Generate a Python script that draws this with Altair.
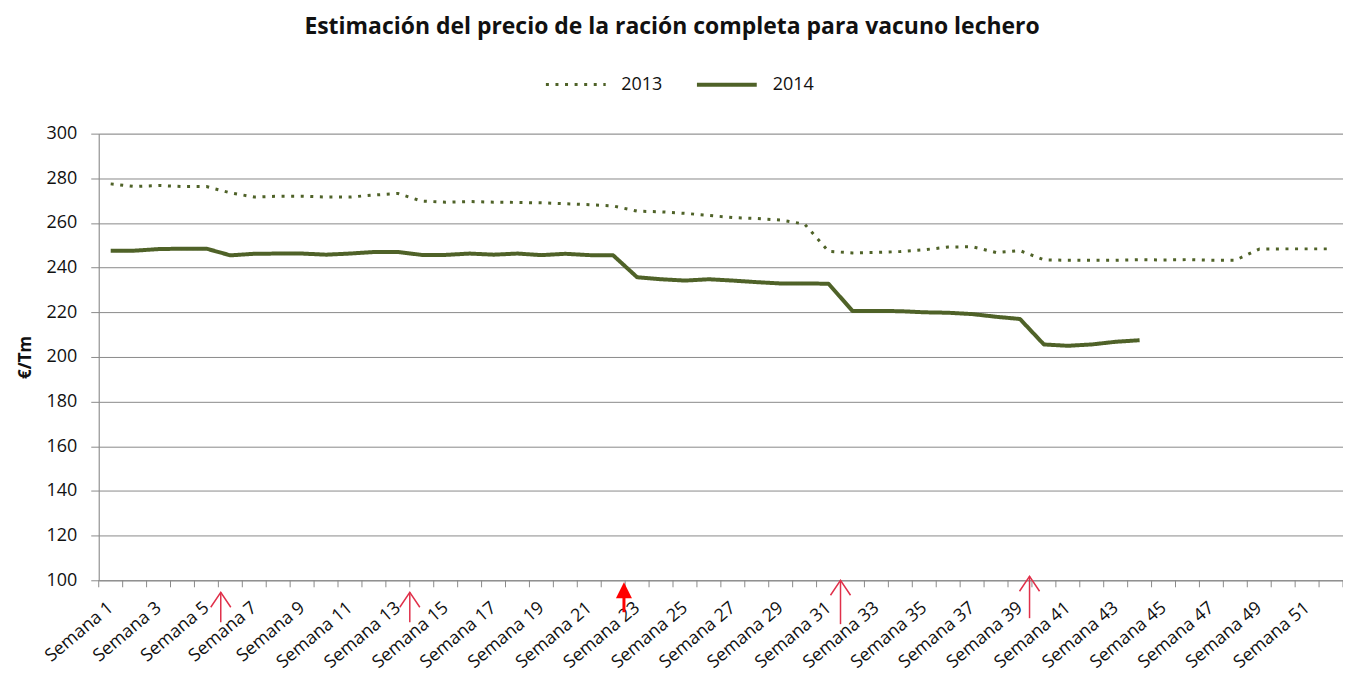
import altair as alt
import pandas as pd

# ---------------- data ----------------
weeks = list(range(1, 53))
v2013 = [277.5, 276.3, 276.8, 276.3, 276.3, 273.5, 271.6, 272.0, 272.0, 271.6,
         271.6, 272.5, 273.2, 269.8, 269.3, 269.6, 269.3, 269.2, 269.0, 268.6,
         268.2, 267.6, 265.3, 265.0, 264.3, 263.4, 262.4, 262.0, 261.3, 259.5,
         247.3, 246.6, 246.8, 247.2, 248.0, 249.2, 249.4, 246.8, 247.6, 243.5,
         243.3, 243.3, 243.3, 243.6, 243.4, 243.6, 243.3, 243.3, 248.3, 248.4,
         248.4, 248.4]
v2014 = [247.6, 247.6, 248.3, 248.5, 248.5, 245.5, 246.2, 246.3, 246.3, 245.8,
         246.3, 247.0, 247.0, 245.7, 245.7, 246.3, 245.8, 246.3, 245.6, 246.2,
         245.6, 245.5, 235.7, 234.8, 234.2, 234.8, 234.2, 233.5, 232.9, 232.9,
         232.8, 220.6, 220.6, 220.5, 220.0, 219.8, 219.2, 218.0, 217.0, 205.6,
         205.0, 205.6, 206.8, 207.5]
series = ["2013", "2014"]
label_weeks = list(range(1, 53, 2))
y_ticks = list(range(100, 301, 20))
tick_bounds = [w - 0.5 for w in range(1, 54)]
open_arrow_weeks = [5.6, 13.5, 31.5, 39.4]
filled_arrow_weeks = [22.45]

rows = []
for w, v in zip(weeks, v2013):
    rows.append({"semana": w, "precio": v, "anio": "2013"})
for w, v in zip(weeks, v2014):
    rows.append({"semana": w, "precio": v, "anio": "2014"})
df = pd.DataFrame(rows)

# ---------------- layout / style ----------------
W, H = 1248, 448
FONT = "Open Sans"
LINE = "#4F6228"
GRID = "#8a8a8a"
ARROW = "#e0304a"
# pixel offsets below the x axis for each open arrow: (tip, tail)
OPEN_ARROW_GEOM = [(12, 42), (12, 42), (0, 44), (-4, 38)]

xscale = alt.Scale(domain=[0.5, 52.5], nice=False, zero=False)
yscale = alt.Scale(domain=[100, 300], nice=False, zero=False)

lines = alt.Chart(df).mark_line(color=LINE, strokeCap="butt", strokeJoin="round").encode(
    x=alt.X("semana:Q", scale=xscale,
            axis=alt.Axis(values=label_weeks, labelExpr="'Semana ' + datum.value",
                          labelAngle=-40, labelAlign="right", labelBaseline="middle",
                          labelPadding=25, ticks=False, grid=False, title=None,
                          domainColor=GRID, labelFontSize=18, labelColor="#111",
                          labelFont=FONT, labelOverlap=False, labelBound=False)),
    y=alt.Y("precio:Q", scale=yscale,
            axis=alt.Axis(values=y_ticks, title="€/Tm", grid=True, gridColor=GRID,
                          domainColor=GRID, tickColor=GRID, tickSize=8,
                          labelPadding=14, labelFontSize=18, labelColor="#111",
                          labelFont=FONT, titleFont=FONT, titleFontSize=17,
                          titleFontWeight="bold", titleColor="#111", titlePadding=12)),
    strokeDash=alt.StrokeDash("anio:N",
                              scale=alt.Scale(domain=series, range=[[3, 6.6], [1, 0]]),
                              legend=alt.Legend(title=None, orient="none", legendX=447,
                                                legendY=-81, direction="horizontal",
                                                symbolType="stroke", symbolSize=3600,
                                                symbolStrokeWidth=3.5, symbolStrokeColor=LINE,
                                                labelFontSize=18, labelFont=FONT,
                                                labelColor="#111", labelOffset=14,
                                                columnPadding=26)),
    strokeWidth=alt.StrokeWidth("anio:N", scale=alt.Scale(domain=series, range=[3, 4]),
                                legend=None),
)

ticks_df = pd.DataFrame({"b": tick_bounds})
xticks = alt.Chart(ticks_df).mark_rule(color=GRID, strokeWidth=1).encode(
    x=alt.X("b:Q", scale=xscale), y=alt.value(H), y2=alt.value(H + 7))

arrow_layers = []
for wk, (tip, tail) in zip(open_arrow_weeks, OPEN_ARROW_GEOM):
    adf = pd.DataFrame({"w": [wk]})
    arrow_layers.append(alt.Chart(adf).mark_rule(color=ARROW, strokeWidth=1.5).encode(
        x=alt.X("w:Q", scale=xscale), y=alt.value(H + tip), y2=alt.value(H + tail)))
    arrow_layers.append(alt.Chart(adf).mark_point(
        shape="M-0.67,1L0,0L0.67,1", size=900, filled=False, color=ARROW, strokeWidth=1.5,
        opacity=1).encode(x=alt.X("w:Q", scale=xscale), y=alt.value(H + tip)))

filled_df = pd.DataFrame({"w": filled_arrow_weeks})
fstem = alt.Chart(filled_df).mark_rule(color="#ff0000", strokeWidth=3).encode(
    x=alt.X("w:Q", scale=xscale), y=alt.value(H + 14), y2=alt.value(H + 32))
fhead = alt.Chart(filled_df).mark_point(
    shape="M-0.5,1L0,0L0.5,1Z", size=1024, filled=True, color="#ff0000",
    opacity=1).encode(x=alt.X("w:Q", scale=xscale), y=alt.value(H + 2))

chart = alt.layer(lines, xticks, *arrow_layers, fstem, fhead).properties(
    width=W, height=H,
    title=alt.TitleParams("Estimación del precio de la ración completa para vacuno lechero",
                          font=FONT, fontSize=23, fontWeight="bold", color="#111",
                          anchor="middle", dx=-49, offset=14),
    autosize=alt.AutoSizeParams(type="none"),
    padding={"left": 91, "top": 125, "right": 0, "bottom": 100},
).configure_view(stroke=None).configure(background="white")

chart.save("out.html", embed_options={"renderer": "svg", "actions": False})
